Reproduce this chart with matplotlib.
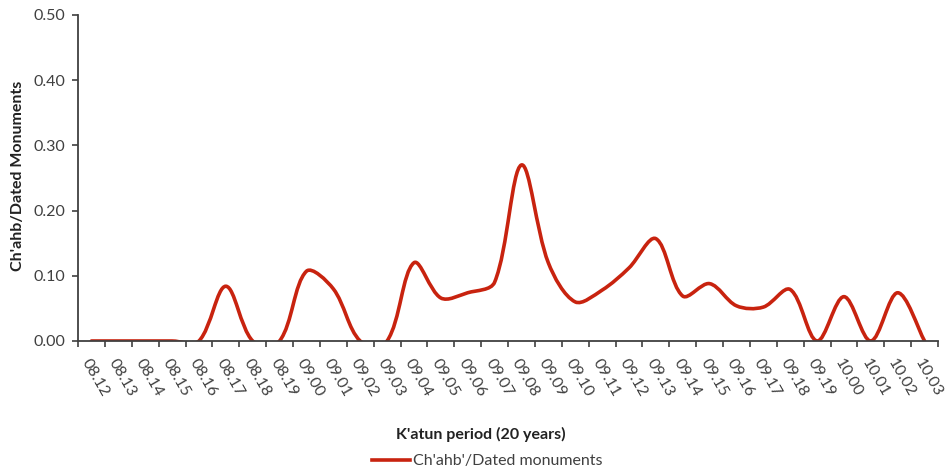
import numpy as np
from matplotlib import pyplot as plt
from matplotlib.path import Path
from matplotlib.patches import PathPatch
from matplotlib.lines import Line2D

plt.rcParams['font.family'] = ['Lato', 'DejaVu Sans']

periods = ['08.12', '08.13', '08.14', '08.15', '08.16', '08.17', '08.18', '08.19',
           '09.00', '09.01', '09.02', '09.03', '09.04', '09.05', '09.06', '09.07',
           '09.08', '09.09', '09.10', '09.11', '09.12', '09.13', '09.14', '09.15',
           '09.16', '09.17', '09.18', '09.19', '10.00', '10.01', '10.02', '10.03']
ratio = [0.0, 0.0, 0.0, 0.0, 0.0, 0.084, 0.0, 0.0,
         0.107, 0.08, 0.0, 0.0, 0.12, 0.066, 0.074, 0.09,
         0.27, 0.12, 0.06, 0.078, 0.112, 0.157, 0.069, 0.088,
         0.054, 0.052, 0.079, 0.0, 0.068, 0.0, 0.074, 0.0]
yticks = [0.0, 0.1, 0.2, 0.3, 0.4, 0.5]

red = '#C8230F'
grey = '#404040'

# spreadsheet-style smoothed line; tangents scaled by neighbouring segment
# lengths (in pixels) so short segments next to long ones don't overshoot
def smooth_path(xs, ys, sx=27.0, sy=652.0, k=1/6.):
    pts = np.column_stack([xs, ys]).astype(float)
    n = len(pts)
    def d(a, b):
        return np.hypot((a[0]-b[0])*sx, (a[1]-b[1])*sy)
    verts = [pts[0]]
    codes = [Path.MOVETO]
    for i in range(n - 1):
        p0 = pts[max(i - 1, 0)]
        p1 = pts[i]
        p2 = pts[i + 1]
        p3 = pts[min(i + 2, n - 1)]
        d01, d12, d23 = d(p0, p1), d(p1, p2), d(p2, p3)
        s1 = 2*d12/(d01 + d12) if d01 + d12 > 0 else 1
        s2 = 2*d12/(d12 + d23) if d12 + d23 > 0 else 1
        s1 = min(s1, 1.5)
        s2 = min(s2, 1.5)
        c1 = p1 + (p2 - p0) * k * s1
        c2 = p2 - (p3 - p1) * k * s2
        verts += [c1, c2, p2]
        codes += [Path.CURVE4] * 3
    return Path(verts, codes)

fig = plt.figure(figsize=(9.48, 4.73), dpi=100)
ax = fig.add_axes([78/948, 1 - 341/473, 860/948, 326/473])

x = np.arange(len(periods))
patch = PathPatch(smooth_path(x, ratio), facecolor='none', edgecolor=red,
                  lw=2.6, capstyle='round', joinstyle='round')
ax.add_patch(patch)

ax.set_xlim(-0.5, len(periods) - 0.5)
ax.set_ylim(0, 0.5)
ax.set_yticks(yticks)
ax.set_yticklabels(['%.2f' % v for v in yticks], fontsize=11.5, color=grey)
ax.set_xticks(x)
ax.set_xticklabels(periods, rotation=-60, ha='left', va='top',
                   rotation_mode='anchor', fontsize=11.5, color=grey)
ax.set_xticks(np.arange(-0.5, len(periods)), minor=True)
ax.tick_params(axis='x', which='major', length=0, pad=11)
ax.tick_params(axis='x', which='minor', length=4, width=1.2, color=grey, direction='out')
ax.tick_params(axis='y', length=4, width=1.2, color=grey, direction='out', pad=5)

for s in ['top', 'right']:
    ax.spines[s].set_visible(False)
ax.spines['left'].set_color(grey)
ax.spines['bottom'].set_color(grey)
ax.spines['left'].set_linewidth(1.3)
ax.spines['bottom'].set_linewidth(1.3)

fig.text(18/948, 1 - 176/473, "Ch'ahb/Dated Monuments", rotation=90, ha='center',
         va='center', fontsize=11.5, fontweight='bold', color='#222222')
fig.text(481/948, 1 - 434/473, "K'atun period (20 years)", ha='center', va='center',
         fontsize=11.5, fontweight='bold', color='#222222')

handle = Line2D([], [], color=red, lw=2.6)
fig.legend([handle], ["Ch'ahb'/Dated monuments"], loc='center',
           bbox_to_anchor=(487/948, 1 - 461/473), frameon=False, fontsize=11.5,
           handlelength=2.4, handletextpad=0.15, labelcolor=grey)

fig.savefig('out.png', dpi=100)
